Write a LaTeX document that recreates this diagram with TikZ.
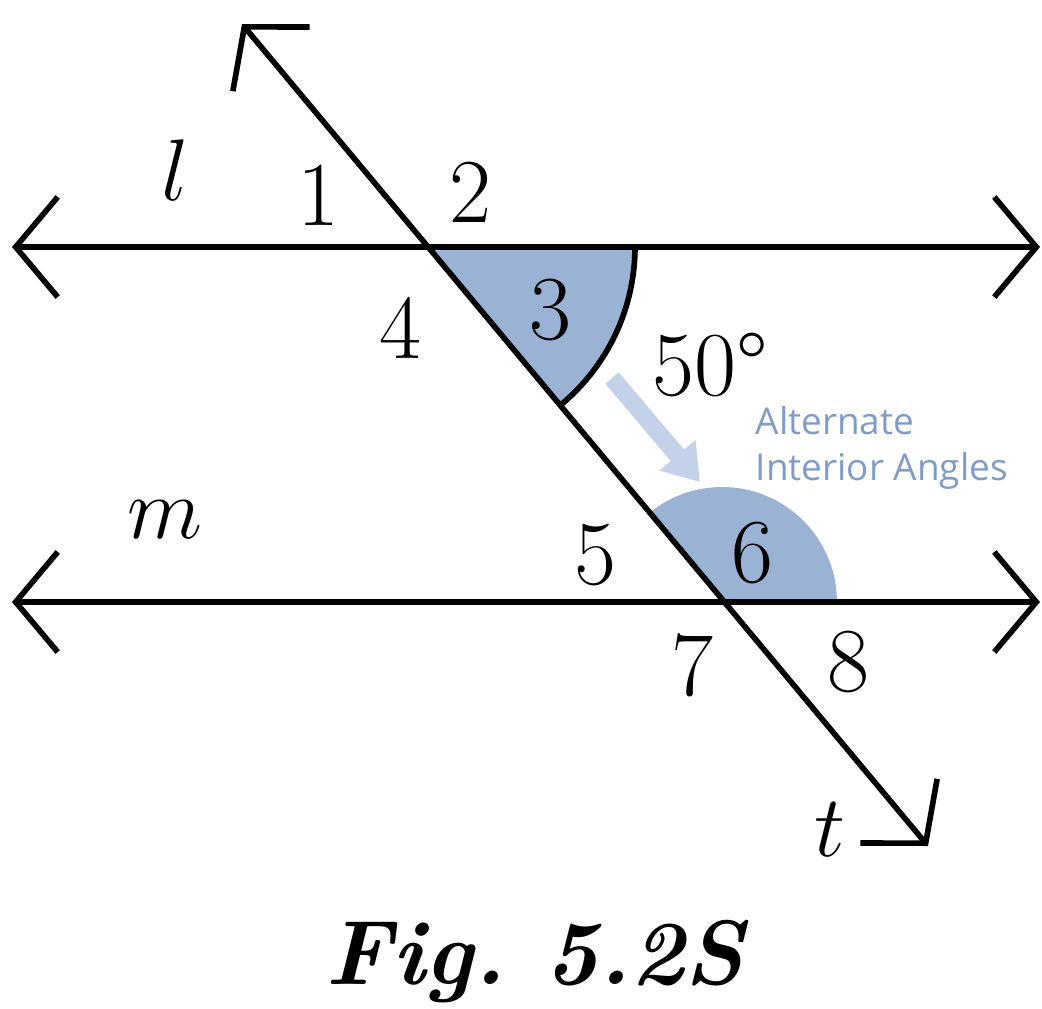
\documentclass[tikz,border=0pt]{standalone}
\usepackage{fontspec}
\newfontfamily\sfont{Open Sans}
\usetikzlibrary{arrows.meta}
\definecolor{fillb}{HTML}{9AB3D5}
\definecolor{arrb}{HTML}{C3D2E8}
\definecolor{txtb}{HTML}{7F9CC8}
\begin{document}
\begin{tikzpicture}[x=0.01cm,y=-0.01cm,
  ln/.style={line width=1.6pt,{Straight Barb[length=0.42cm,width=1.0cm,line width=1.6pt]}-{Straight Barb[length=0.42cm,width=1.0cm,line width=1.6pt]}},
  lab/.style={font=\fontsize{26}{30}\selectfont,inner sep=0}]
\useasboundingbox (0,0) rectangle (1042,1008);
\coordinate (A) at (430,247);
\coordinate (B) at (722,602);
\fill[fillb] (A) -- ++(205,0) arc[start angle=0,end angle=-50.6,x radius=205,y radius=-205] -- cycle;
\draw[line width=1.6pt] (A) ++(205,0) arc[start angle=0,end angle=-50.6,x radius=205,y radius=-205];
\fill[fillb] (B) -- ++(115,0) arc[start angle=0,end angle=129.4,x radius=115,y radius=-115] -- cycle;
\coordinate (l1) at (12,247); \coordinate (l2) at (1040,247);
\coordinate (m1) at (12,602); \coordinate (m2) at (1040,602);
\coordinate (t1) at (242,24); \coordinate (t2) at (928,846);
\draw[ln] (l1) -- (l2);
\draw[ln] (m1) -- (m2);
\draw[ln] (t1) -- (t2);
\coordinate (a1) at (612,378); \coordinate (a2) at (700,482);
\draw[arrb,line width=5pt,-{Triangle[length=0.35cm,width=0.45cm]}] (a1) -- (a2);
\node[lab] (nl) at (175,170) {$l$};
\node[lab] (n1) at (318,195) {1};
\node[lab] (n2) at (470,192) {2};
\node[lab] (n3) at (550,310) {3};
\node[lab] (n4) at (400,328) {4};
\node[lab] (n50) at (710,365) {50°};
\node[lab] (n5) at (595,555) {5};
\node[lab] (n6) at (752,553) {6};
\node[lab] (n7) at (692,665) {7};
\node[lab] (n8) at (848,662) {8};
\node[lab] (nm) at (165,520) {$m$};
\node[lab] (nt) at (830,830) {$t$};
\node[font=\sfont\fontsize{10.5}{13}\selectfont,text=txtb,align=left,anchor=west,inner sep=0] (alt) at (755,448) {Alternate\\Interior Angles};
\node[lab,font=\fontsize{26}{30}\selectfont\bfseries\itshape] (fig) at (535,962) {Fig.\ 5.2S};
\end{tikzpicture}
\end{document}
